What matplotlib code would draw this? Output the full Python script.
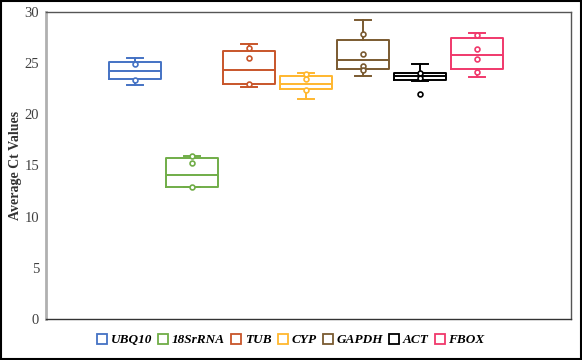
import matplotlib.pyplot as plt
from matplotlib.lines import Line2D

plt.rcParams['font.family'] = ['Liberation Serif', 'DejaVu Serif']

# genes and box statistics (Ct values)
genes = ["UBQ10", "18SrRNA", "TUB", "CYP", "GAPDH", "ACT", "FBOX"]
colors = ["#4472C4", "#70AD47", "#C8552A", "#FFB72E", "#7A5A30", "#000000", "#F0386B"]
whislo = [22.85, 12.85, 22.7, 21.5, 23.7, 23.2, 23.6]
q1 = [23.4, 12.9, 23.0, 22.45, 24.4, 23.3, 24.4]
med = [24.25, 14.1, 24.3, 23.0, 25.3, 23.7, 25.8]
q3 = [25.07, 15.7, 26.2, 23.75, 27.3, 24.05, 27.4]
whishi = [25.47, 15.9, 26.9, 24.0, 29.2, 24.9, 27.95]
points = [
    [24.9, 23.37],
    [15.9, 15.24, 12.88],
    [26.45, 25.5, 23.0],
    [23.9, 23.4, 22.4],
    [27.8, 25.9, 24.75, 24.3],
    [24.0, 23.5, 22.0],
    [27.75, 26.35, 25.4, 24.15],
]

fig = plt.figure(figsize=(5.82, 3.6), dpi=100)
ax = fig.add_axes([0.079, 0.114, 0.902, 0.853])

positions = list(range(1, len(genes) + 1))
for i, g in enumerate(genes):
    stats = [dict(whislo=whislo[i], q1=q1[i], med=med[i], q3=q3[i],
                  whishi=whishi[i], fliers=[], label=g)]
    c = colors[i]
    ax.bxp(stats, positions=[positions[i]], widths=0.92, capwidths=0.28,
           showfliers=False, manage_ticks=False,
           boxprops=dict(color=c, linewidth=1.4),
           medianprops=dict(color=c, linewidth=1.4),
           whiskerprops=dict(color=c, linewidth=1.4),
           capprops=dict(color=c, linewidth=1.4))
    ax.plot([positions[i]] * len(points[i]), points[i], 'o', mfc='white',
            mec=c, mew=1.2, ms=3.5, zorder=3)

ax.set_ylim(0, 30)
ax.set_xlim(-0.56, 8.65)
ax.set_yticks([0, 5, 10, 15, 20, 25, 30])
ax.set_xticks([])
ax.tick_params(axis='y', length=0, labelsize=10.5, colors='#404040', pad=5)
ax.set_ylabel("Average Ct Values", fontsize=10, fontweight='bold', color='#333333')
ax.yaxis.set_label_coords(-0.046, 0.5)

for side in ['top', 'right']:
    ax.spines[side].set_color('#555555')
    ax.spines[side].set_linewidth(1.0)
ax.spines['left'].set_color('#b0b0b0')
ax.spines['left'].set_linewidth(2.0)
ax.spines['bottom'].set_color('#333333')
ax.spines['bottom'].set_linewidth(1.0)

handles = [Line2D([], [], marker='s', ls='none', mfc='white', mec=c, mew=1.3, ms=7)
           for c in colors]
fig.legend(handles, genes, loc='center', bbox_to_anchor=(0.5, 0.055), ncol=7,
           frameon=False, handlelength=0.7, handletextpad=0.3, columnspacing=0.5,
           prop=dict(style='italic', weight='bold', size=9.5))

# outer frame around the whole figure
fig.patches.append(plt.Rectangle((0.002, 0.003), 0.996, 0.994, transform=fig.transFigure,
                                 fill=False, ec='black', lw=1.5))

fig.savefig("out.png", dpi=100)
